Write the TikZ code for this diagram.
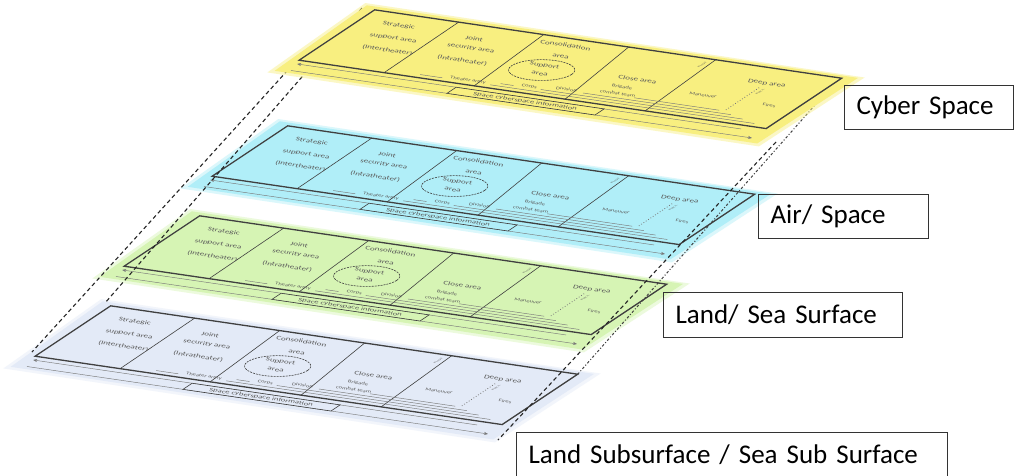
\documentclass[tikz,border=0pt]{standalone}
\usepackage{fontspec}
\setmainfont{Carlito}
\usetikzlibrary{arrows.meta}
\definecolor{ylw}{HTML}{F8EF80}
\definecolor{cyn}{HTML}{B0EEF8}
\definecolor{grn}{HTML}{D6F4B4}
\definecolor{gry}{HTML}{E3EAF7}
\definecolor{ink}{HTML}{404040}
\definecolor{txt}{HTML}{5A5A5A}
\tikzset{
  lt/.style={text=txt, inner sep=0pt, cm={1,-0.146,0.22,0.6,(0pt,0pt)}, font=\fontsize{9}{9}\selectfont},
  st/.style={lt, font=\fontsize{6.5}{6.5}\selectfont},
  rt/.style={text=txt, inner sep=0pt, font=\fontsize{5}{5}\selectfont, cm={0.83,0.55,-0.6,0.09,(0pt,0pt)}},
  border/.style={draw=ink, line width=1.3pt},
  divider/.style={draw=ink, line width=0.6pt},
  thinline/.style={draw=ink!70, line width=0.45pt},
  conn/.style={draw=black!85, line width=1.1pt, dash pattern=on 4pt off 3pt},
  conndot/.style={draw=black!75, line width=1pt, dash pattern=on 2.5pt off 2pt on 1pt off 2pt},
  lbl/.style={draw=black!80, line width=1.1pt, anchor=north west, inner xsep=12pt, inner ysep=0pt, align=left, font=\fontsize{27}{27}\selectfont, text=black}
}
\newcommand\drawlayer[4]{%
\begin{scope}[name prefix=#1-, cm={1,-0.1464,0.8304,0.5536,(#2pt,-#3pt)}]
  \fill[#4, opacity=0.45] (-5,-4) -- (496,-2) -- (494,123) -- (0,120) -- cycle;
  \fill[#4] (-1,-1) -- (491,0) -- (489,119) -- (4,116) -- cycle;
  \draw[border] (11,4) rectangle (478,95);
  \draw[divider] (95,4) -- (96,95);
  \draw[divider] (180,4) -- (186,95);
  \draw[divider] (265,4) -- (277,95);
  \draw[divider] (352,4) -- (357,95);
  \node[lt] (strat) at (50,22) {Strategic};
  \node[lt] (supp) at (61,42) {support area};
  \node[lt] (inter) at (71,61) {(Intertheater)};
  \node[lt] (joint) at (128,25) {Joint};
  \node[lt] (sec) at (137,40) {security area};
  \node[lt] (intra) at (145,60) {(Intratheater)};
  \node[lt] (cons) at (211,15) {Consolidation};
  \node[lt] (consa) at (221,33) {area};
  \draw[divider, dash pattern=on 2pt off 1pt] (222,57) ellipse [x radius=30, y radius=17];
  \node[lt] (sup) at (219,50) {Support};
  \node[lt] (supa) at (225,63) {area};
  \node[lt] (close) at (312,50) {Close area};
  \node[lt] (deep) at (423,28) {Deep area};
  \node[st] (man) at (385,59) {Maneuver};
  \node[st] (fires) at (452,60) {Fires};
  \draw[thinline, line width=0.8pt, dotted] (422,36) -- (422,76);
  \node[rt] (fscl) at (428,42) {FSCL};
  \node[rt] (flot) at (347,14) {FLOT};
  \draw[thinline] (128,90) -- (150,90);
  \node[st] (theat) at (174,88) {Theater army};
  \draw[thinline] (198,90) -- (462,90);
  \draw[thinline] (205,86) -- (218,86);
  \node[st] (corps) at (232,84) {Corps};
  \draw[thinline] (245,86) -- (447,86);
  \node[st] (div) at (266,80) {Division};
  \draw[thinline] (284,82) -- (432,82);
  \node[st] (bri) at (309,65) {Brigade};
  \node[st] (bct) at (313,75) {combat team};
  \draw[thinline] (332,78) -- (417,78);
  \draw[thinline, {Stealth[length=4pt,width=3pt]}-] (14,101) -- (458,101);
  \draw[thinline, -{Stealth[length=4pt,width=3pt]}] (17,112) -- (478,112);
  \filldraw[fill=#4, draw=ink, line width=0.6pt] (173,101) rectangle (321,112);
  \node[st, font=\fontsize{8.5}{8.5}\selectfont] (space) at (247,107) {Space cyberspace information};
\end{scope}}
\begin{document}
\begin{tikzpicture}[x=1pt,y=-1pt]
\useasboundingbox (0,0) rectangle (1015,475);
\fill[white] (0,0) rectangle (1015,475);
\drawlayer{grey}{103}{302}{gry}
\drawlayer{green}{192}{212}{grn}
\drawlayer{cyan}{280}{122}{cyn}
\coordinate (l1a) at (297,60); \coordinate (l1b) at (32,352);
\coordinate (l2a) at (362,8); \coordinate (l2b) at (105,303);
\coordinate (r1a) at (776,142); \coordinate (r1b) at (498,440);
\coordinate (r2a) at (837,80); \coordinate (r2b) at (577,375);
\draw[conn] (l1a) -- (l1b);
\draw[conn] (l2a) -- (l2b);
\draw[conn] (r1a) -- (r1b);
\draw[conndot] (r2a) -- (r2b);
\drawlayer{yellow}{367}{6}{ylw}
\node[lbl, minimum height=44pt, text width=145pt] (cyber) at (844,85) {Cyber Space};
\node[lbl, minimum height=44pt, text width=146pt] (air) at (758,194) {Air/ Space};
\node[lbl, minimum height=45pt, text width=215pt] (land) at (663,292) {Land/ Sea Surface};
\node[lbl, minimum height=44pt, text width=407pt] (sub) at (516,432) {Land Subsurface / Sea Sub Surface};
\end{tikzpicture}
\end{document}
